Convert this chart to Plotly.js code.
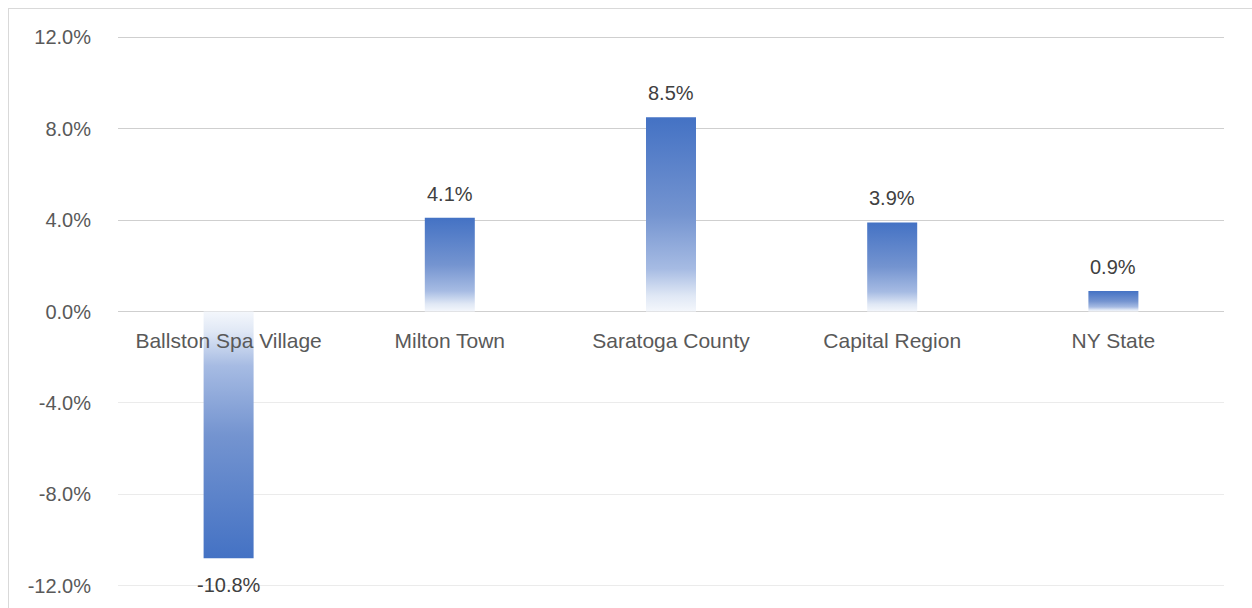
<!DOCTYPE html>
<html>
<head>
<meta charset="utf-8">
<script src="https://cdn.plot.ly/plotly-3.0.1.min.js"></script>
<style>
  html, body { margin: 0; padding: 0; background: #ffffff; overflow: hidden; }
  #wrap { position: relative; width: 1252px; height: 608px; overflow: hidden; }
  #chart { position: absolute; left: 0; top: 0; width: 1252px; height: 608px; }
  #frame { position: absolute; left: 8px; top: 8px; width: 1400px; height: 800px;
           border: 1px solid #d9d9d9; box-sizing: border-box; pointer-events: none; }
</style>
</head>
<body>
<div id="wrap">
  <div id="chart"></div>
  <div id="frame"></div>
</div>
<script>
const categories = ["Ballston Spa Village", "Milton Town", "Saratoga County", "Capital Region", "NY State"];
const values = [-10.8, 4.1, 8.5, 3.9, 0.9];
const valueLabels = ["-10.8%", "4.1%", "8.5%", "3.9%", "0.9%"];
const yTickValuesUpper = [0, 4, 8, 12];
const yTickLabelsUpper = ["0.0%", "4.0%", "8.0%", "12.0%"];
const yTickValuesLower = [-12, -8, -4];
const yTickLabelsLower = ["-12.0%", "-8.0%", "-4.0%"];

const barWidth = 0.226;
const FONT = "Liberation Sans, Arial, sans-serif";
const yRange = [-12.1, 12.1];

const gradientScale = [
  [0, "#f4f7fc"],
  [0.08, "#e0e8f5"],
  [0.22, "#a6bbe3"],
  [0.5, "#7494d0"],
  [1, "#4472c4"]
];

const traces = values.map((v, i) => ({
  type: "scatter",
  mode: "none",
  x: [i - barWidth / 2, i + barWidth / 2, i + barWidth / 2, i - barWidth / 2, i - barWidth / 2],
  y: [0, 0, v, v, 0],
  fill: "toself",
  fillcolor: "#4472c4",
  fillgradient: { type: "vertical", colorscale: gradientScale, start: 0, stop: v },
  hoverinfo: "skip",
  showlegend: false
}));

// invisible trace to activate the second (overlay) y axis carrying the lower gridlines
traces.unshift({
  type: "scatter", mode: "none", x: [0], y: [0], yaxis: "y2",
  hoverinfo: "skip", showlegend: false
});

const annotations = values.map((v, i) => ({
  x: i, y: v, xref: "x", yref: "y",
  text: valueLabels[i],
  showarrow: false,
  xanchor: "center",
  yanchor: v >= 0 ? "bottom" : "top",
  yshift: v >= 0 ? 11 : -14,
  font: { family: FONT, size: 20, color: "#404040" }
}));

const yCommon = {
  range: yRange,
  tickmode: "array",
  showgrid: true,
  gridwidth: 1,
  zeroline: false,
  showline: false,
  ticks: "outside", ticklen: 22, tickcolor: "rgba(0,0,0,0)",
  tickfont: { family: FONT, size: 20, color: "#595959" },
  fixedrange: true
};

const layout = {
  width: 1252, height: 608,
  margin: { l: 118, r: 28, t: 35, b: 20 },
  paper_bgcolor: "#ffffff",
  plot_bgcolor: "rgba(0,0,0,0)",
  showlegend: false,
  xaxis: {
    type: "linear",
    range: [-0.5, categories.length - 0.5],
    tickmode: "array",
    tickvals: categories.map((c, i) => i),
    ticktext: categories,
    showgrid: false,
    zeroline: false,
    showline: false,
    anchor: "free",
    position: 0.5,
    ticks: "outside", ticklen: 10, tickcolor: "rgba(0,0,0,0)",
    tickfont: { family: FONT, size: 21, color: "#595959" },
    layer: "above traces",
    fixedrange: true
  },
  yaxis: Object.assign({}, yCommon, {
    tickvals: yTickValuesUpper,
    ticktext: yTickLabelsUpper,
    gridcolor: "#cfcfcf"
  }),
  yaxis2: Object.assign({}, yCommon, {
    overlaying: "y",
    side: "left",
    tickvals: yTickValuesLower,
    ticktext: yTickLabelsLower,
    gridcolor: "#ebebeb"
  }),
  annotations: annotations
};

Plotly.newPlot("chart", traces, layout, { displayModeBar: false, staticPlot: true });
</script>
</body>
</html>
